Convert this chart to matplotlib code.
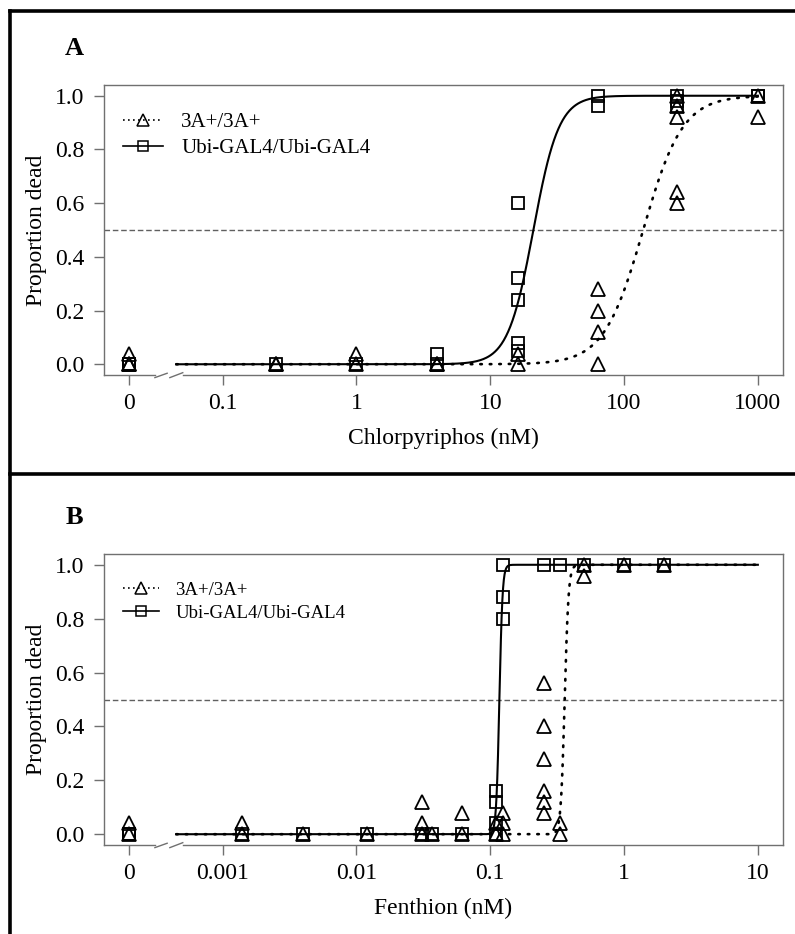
import numpy as np
import matplotlib.pyplot as plt
from matplotlib.lines import Line2D
from matplotlib.ticker import NullLocator

plt.rcParams['font.family'] = ['Liberation Serif', 'DejaVu Serif']

# Chlorpyriphos bioassay: dose (nM) and proportion dead per vial
cpf_dose_3a = [0, 0, 0, 0.25, 0.25, 1, 1, 4, 4, 16, 16,
               64, 64, 64, 64, 250, 250, 250, 250, 250, 1000, 1000]
cpf_dead_3a = [0.04, 0.0, 0.0, 0.0, 0.0, 0.04, 0.0, 0.0, 0.0, 0.04, 0.0,
               0.28, 0.20, 0.12, 0.0, 1.0, 0.96, 0.92, 0.64, 0.60, 1.0, 0.92]
cpf_dose_ubi = [0, 0, 0.25, 1, 4, 4, 16, 16, 16, 16, 16,
                64, 64, 250, 250, 250, 1000, 1000]
cpf_dead_ubi = [0.0, 0.0, 0.0, 0.0, 0.04, 0.0, 0.60, 0.32, 0.24, 0.08, 0.05,
                1.0, 0.96, 1.0, 0.98, 0.96, 1.0, 1.0]

# Fenthion bioassay
fen_dose_3a = [0, 0, 0.0014, 0.0014, 0.004, 0.012, 0.031, 0.031, 0.031,
               0.037, 0.062, 0.062, 0.11, 0.11, 0.124, 0.124, 0.124,
               0.25, 0.25, 0.25, 0.25, 0.25, 0.25, 0.33, 0.33,
               0.5, 0.5, 1, 2]
fen_dead_3a = [0.04, 0.0, 0.04, 0.0, 0.0, 0.0, 0.12, 0.04, 0.0,
               0.0, 0.08, 0.0, 0.04, 0.0, 0.08, 0.04, 0.0,
               0.56, 0.40, 0.28, 0.16, 0.12, 0.08, 0.04, 0.0,
               1.0, 0.96, 1.0, 1.0]
fen_dose_ubi = [0, 0, 0.0014, 0.004, 0.012, 0.031, 0.037, 0.062,
                0.11, 0.11, 0.11, 0.11, 0.124, 0.124, 0.124,
                0.25, 0.33, 0.5, 1, 2]
fen_dead_ubi = [0.0, 0.0, 0.0, 0.0, 0.0, 0.0, 0.0, 0.0,
                0.16, 0.12, 0.04, 0.0, 1.0, 0.88, 0.80,
                1.0, 1.0, 1.0, 1.0, 1.0]

# log-logistic fits (LC50 in nM, slope b): [3A+/3A+, Ubi-GAL4/Ubi-GAL4]
cpf_lc50 = [139, 21]
cpf_slope = [2.95, 4.56]
fen_lc50 = [0.36, 0.117]
fen_slope = [30, 37]

genotypes = ['3A+/3A+', 'Ubi-GAL4/Ubi-GAL4']
cpf_ticks = [0.1, 1, 10, 100, 1000]
fen_ticks = [0.001, 0.01, 0.1, 1, 10]


def loglogistic(x, lc50, slope):
    return 1.0 / (1.0 + (lc50 / x) ** slope)


def panel(ax, doses, deads, lc50s, slopes, zero_pos, x_start, x_end,
          ticks, xlabel, letter, leg_size, leg_top):
    grey = '#707070'
    ax.set_xscale('log')
    lo = np.log10(zero_pos)
    hi = np.log10(x_end)
    ext = 0.04 * (hi - lo)
    ax.set_xlim(10 ** (lo - ext), 10 ** (hi + ext))
    ax.set_ylim(-0.04, 1.04)

    ax.axhline(0.5, color='#606060', lw=1.0, ls=(0, (4, 2)))

    xs = np.logspace(np.log10(x_start), np.log10(x_end), 800)
    styles = [(0, (0.6, 3.0)), '-']
    markers = ['^', 's']
    msizes = [9.5, 8]
    for i in range(2):
        lw = 1.9 if i == 0 else 1.5
        ax.plot(xs, loglogistic(xs, lc50s[i], slopes[i]), color='black',
                lw=lw, ls=styles[i], dash_capstyle='round', zorder=2)
        d = np.array(doses[i], dtype=float)
        d[d == 0] = zero_pos
        ax.plot(d, deads[i], ls='none', marker=markers[i], ms=msizes[i],
                mfc='none', mec='black', mew=1.3, zorder=3)

    ax.set_xticks([zero_pos] + ticks, ['0'] + [f'{t:g}' for t in ticks])
    ax.xaxis.set_minor_locator(NullLocator())
    ax.set_yticks(np.arange(0, 1.01, 0.2), [f'{v:.1f}' for v in np.arange(0, 1.01, 0.2)])
    ax.tick_params(axis='both', direction='out', length=7, width=1.0,
                   color=grey, labelsize=17, labelcolor='black')
    ax.tick_params(axis='x', pad=6)
    ax.tick_params(axis='y', pad=7)
    for s in ax.spines.values():
        s.set_color(grey)
        s.set_linewidth(1.0)

    # broken bottom axis between the zero dose and the log scale
    ax.spines['bottom'].set_visible(False)
    kw = dict(transform=ax.transAxes, color=grey, lw=1.0, clip_on=False)
    ax.plot([0, 0.075], [0, 0], **kw)
    ax.plot([0.116, 1], [0, 0], **kw)
    ax.plot([0.075, 0.093], [-0.009, 0.006], **kw)
    ax.plot([0.097, 0.116], [-0.009, 0.008], **kw)

    ax.set_xlabel(xlabel, fontsize=17, labelpad=10)
    ax.set_ylabel('Proportion dead', fontsize=17, labelpad=6)
    ax.text(-0.044, 1.125, letter, transform=ax.transAxes, fontsize=19,
            fontweight='bold', ha='center', va='center')

    handles = [Line2D([], [], color='black', lw=1.2, ls=(0, (1, 2)), marker='^',
                      ms=8, mfc='none', mec='black', mew=1.1),
               Line2D([], [], color='black', lw=1.2, ls='-', marker='s',
                      ms=7, mfc='none', mec='black', mew=1.1)]
    ax.legend(handles, genotypes, loc='upper left', bbox_to_anchor=(0.028, leg_top),
              frameon=False, fontsize=leg_size, handlelength=1.9,
              handletextpad=0.9, labelspacing=0.3, borderpad=0, borderaxespad=0)


fig = plt.figure(figsize=(7.95, 9.34), dpi=100)
W, H = 795.0, 934.0
ax_a = fig.add_axes([104 / W, 1 - 375 / H, 679 / W, 290 / H])
ax_b = fig.add_axes([104 / W, 1 - 845 / H, 679 / W, 291 / H])

panel(ax_a, [cpf_dose_3a, cpf_dose_ubi], [cpf_dead_3a, cpf_dead_ubi],
      cpf_lc50, cpf_slope, 0.02, 0.045, 1000, cpf_ticks,
      'Chlorpyriphos (nM)', 'A', 15, 0.905)
panel(ax_b, [fen_dose_3a, fen_dose_ubi], [fen_dead_3a, fen_dead_ubi],
      fen_lc50, fen_slope, 0.0002, 0.00045, 10, fen_ticks,
      'Fenthion (nM)', 'B', 13.5, 0.905)

# panel frames
frame = dict(color='black', lw=2.6, solid_capstyle='projecting')
fig.add_artist(Line2D([9.5 / W, 9.5 / W], [0, 1 - 10.5 / H], **frame))
fig.add_artist(Line2D([9.5 / W, 1], [1 - 10.5 / H, 1 - 10.5 / H], **frame))
fig.add_artist(Line2D([9.5 / W, 1], [1 - 474 / H, 1 - 474 / H], **frame))

fig.savefig('out.png', dpi=100)
